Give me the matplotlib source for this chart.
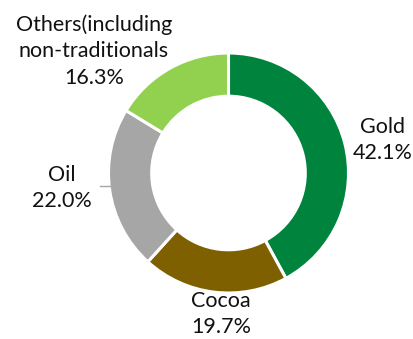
import matplotlib.pyplot as plt

# Export composition (share of total, %)
categories = ["Gold", "Cocoa", "Oil", "Others(including\nnon-traditionals"]
shares = [42.1, 19.7, 22.0, 16.3]
colors = ["#00843D", "#7F6000", "#A6A6A6", "#92D050"]

# label anchor points in pixel space (x, y from top)
label_pos = [(383, 140), (221, 314), (62, 188), (94, 51)]

W, H = 414, 339
fig = plt.figure(figsize=(W / 100, H / 100), dpi=100)
ax = fig.add_axes([0, 0, 1, 1])

cx, cy, r = 228.5, H - 173, 120
ax.pie(shares, colors=colors, startangle=90, counterclock=False,
       center=(cx, cy), radius=r, frame=True,
       wedgeprops=dict(width=r * 0.36, edgecolor="white", linewidth=2.2))
ax.set_xlim(0, W)
ax.set_ylim(0, H)
ax.set_aspect("equal")
ax.axis("off")

for name, val, (x, y) in zip(categories, shares, label_pos):
    ax.text(x, H - y, f"{name}\n{val:.1f}%", ha="center", va="center",
            fontsize=15.5, family="Lato", linespacing=1.4,
            color="#111111")

# short leader line next to the Oil label
ax.plot([100, 110], [H - 186, H - 186], color="#A6A6A6", lw=1)

fig.savefig("out.png", dpi=100)
